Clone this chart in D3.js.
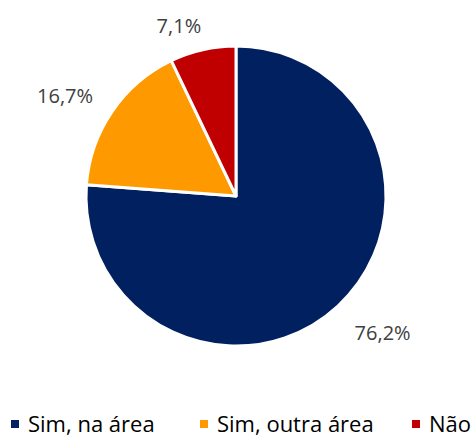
<!DOCTYPE html>
<html>
<head lang="pt">
    <meta charset="UTF-8">
    <title></title>
    <script src="https://cdn.jsdelivr.net/npm/d3@7"></script>
    <style>
        *{margin:0;padding:0;}
        body{background:#fff;}
    </style>
</head>
<body>
<div id="mychart" style="width:476px;height:438px;"></div>
<script>
    var categories = ["Sim, na área", "Sim, outra área", "Não"];
    var values = [76.2, 16.7, 7.1];
    var labels = ["76,2%", "16,7%", "7,1%"];
    var colors = ["#002060", "#FF9900", "#C00000"];

    var _width = 476, _height = 438;
    var _cx = 236, _cy = 196, _radius = 150;

    var _svg = d3.select("#mychart").append("svg")
            .attr("width", _width)
            .attr("height", _height);

    var _pie = d3.pie().sort(null).value(function(d){ return d; });
    var _arcs = _pie(values);
    var _arc = d3.arc().innerRadius(0).outerRadius(_radius);
    var _labelArc = d3.arc().innerRadius(195).outerRadius(195);
    //rotulos fora da pizza, ajuste fino como no Excel
    var _nudge = [[14, -6], [-10, 10], [-14, 20]];

    var _g = _svg.append("g")
            .attr("transform", "translate(" + _cx + "," + _cy + ")");

    _g.selectAll("path")
            .data(_arcs)
            .enter()
            .append("path")
            .attr("d", _arc)
            .attr("fill", function(d, i){ return colors[i]; })
            .attr("stroke", "#fff")
            .attr("stroke-width", 3)
            .attr("stroke-linejoin", "round");

    _g.selectAll("text")
            .data(_arcs)
            .enter()
            .append("text")
            .attr("x", function(d, i){ return _labelArc.centroid(d)[0] + _nudge[i][0]; })
            .attr("y", function(d, i){ return _labelArc.centroid(d)[1] + _nudge[i][1]; })
            .attr("dy", "0.35em")
            .attr("text-anchor", "middle")
            .style("font-family", "'Open Sans', sans-serif")
            .style("font-size", "20px")
            .attr("fill", "#404040")
            .text(function(d, i){ return labels[i]; });

    // legenda
    var _legendX = [11, 200, 412];
    var _legend = _svg.append("g").attr("transform", "translate(0,432)");
    var _items = _legend.selectAll("g")
            .data(categories)
            .enter()
            .append("g")
            .attr("transform", function(d, i){ return "translate(" + _legendX[i] + ",0)"; });
    _items.append("rect")
            .attr("x", 0).attr("y", -12)
            .attr("width", 8).attr("height", 8)
            .attr("fill", function(d, i){ return colors[i]; });
    _items.append("text")
            .attr("x", 17)
            .attr("y", 0)
            .style("font-family", "'Open Sans', sans-serif")
            .style("font-size", "22px")
            .attr("fill", "#000")
            .text(function(d){ return d; });
</script>
</body>
</html>
